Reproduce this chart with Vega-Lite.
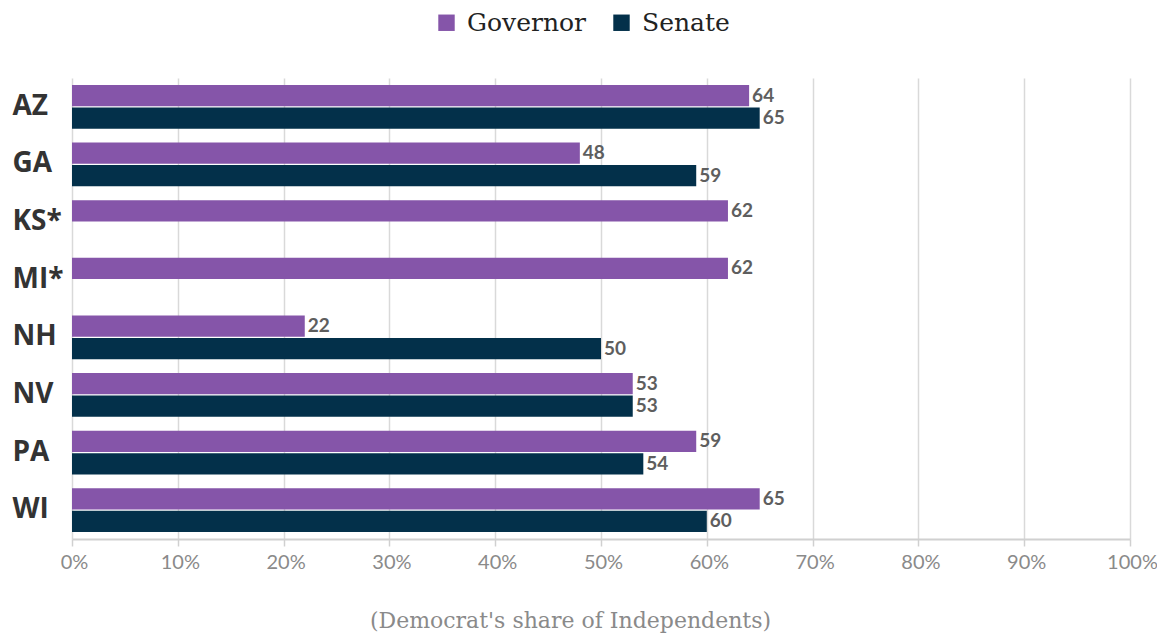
{
  "$schema": "https://vega.github.io/schema/vega-lite/v6.json",
  "width": 1058,
  "height": 461,
  "autosize": {"type": "none"},
  "padding": {"left": 72, "top": 78, "right": 27, "bottom": 96},
  "background": "white",
  "config": {"view": {"stroke": null}},
  "data": {
    "values": [
      {"state": "AZ", "race": "Governor", "value": 64},
      {"state": "AZ", "race": "Senate", "value": 65},
      {"state": "GA", "race": "Governor", "value": 48},
      {"state": "GA", "race": "Senate", "value": 59},
      {"state": "KS*", "race": "Governor", "value": 62},
      {"state": "MI*", "race": "Governor", "value": 62},
      {"state": "NH", "race": "Governor", "value": 22},
      {"state": "NH", "race": "Senate", "value": 50},
      {"state": "NV", "race": "Governor", "value": 53},
      {"state": "NV", "race": "Senate", "value": 53},
      {"state": "PA", "race": "Governor", "value": 59},
      {"state": "PA", "race": "Senate", "value": 54},
      {"state": "WI", "race": "Governor", "value": 65},
      {"state": "WI", "race": "Senate", "value": 60}
    ]
  },
  "encoding": {
    "y": {
      "field": "state", "type": "nominal", "sort": null,
      "scale": {"paddingInner": 0.24, "paddingOuter": 0.12},
      "axis": {
        "title": null, "ticks": false, "domain": false, "grid": false,
        "labelFont": "Open Sans", "labelFontWeight": "bold", "labelFontSize": 28,
        "labelColor": "#333333", "labelAlign": "left", "labelPadding": 60
      }
    },
    "yOffset": {"field": "race", "type": "nominal", "sort": ["Governor", "Senate"], "scale": {"paddingInner": 0.06}},
    "x": {
      "field": "value", "type": "quantitative",
      "scale": {"domain": [0, 100], "nice": false},
      "axis": {
        "values": [0, 10, 20, 30, 40, 50, 60, 70, 80, 90, 100],
        "labelExpr": "datum.value + '%'",
        "labelFlush": false, "labelOffset": 2,
        "title": "(Democrat's share of Independents)",
        "titleFont": "DejaVu Serif", "titleFontWeight": "normal", "titleFontSize": 22,
        "titleColor": "#8a8a8a", "titlePadding": 38, "titleX": 498,
        "labelFont": "Lato", "labelFontSize": 20, "labelColor": "#8a8a8a", "labelPadding": 6,
        "domainColor": "#d0d0d0", "domainWidth": 2,
        "tickColor": "#d0d0d0", "tickSize": 7, "tickWidth": 1.5,
        "gridColor": "#d9d9d9", "gridWidth": 1.5
      }
    }
  },
  "layer": [
    {
      "mark": {"type": "bar"},
      "encoding": {
        "color": {
          "field": "race", "type": "nominal",
          "scale": {"domain": ["Governor", "Senate"], "range": ["#8555A9", "#03304A"]},
          "legend": {
            "title": null, "orient": "none", "direction": "horizontal",
            "legendX": 362, "legendY": -68,
            "symbolType": "square", "symbolSize": 270, "symbolStrokeWidth": 0,
            "labelFont": "DejaVu Serif", "labelFontSize": 25, "labelColor": "#222222",
            "labelOffset": 8, "columnPadding": 23
          }
        }
      }
    },
    {
      "mark": {"type": "text", "align": "left", "baseline": "middle", "dx": 3, "font": "Lato", "fontWeight": "bold", "fontSize": 19, "color": "#5e5e5e"},
      "encoding": {"text": {"field": "value", "type": "quantitative"}}
    }
  ]
}
